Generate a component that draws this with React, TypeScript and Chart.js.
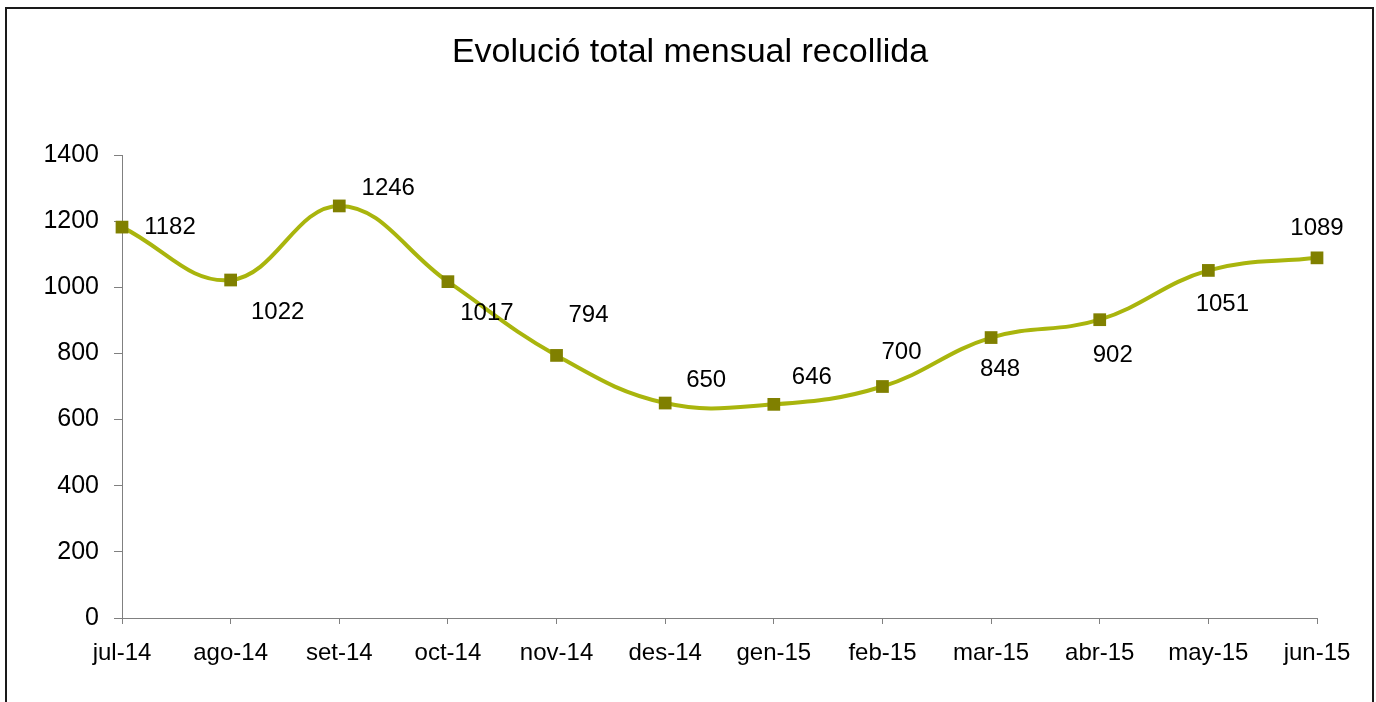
import React, { useEffect, useRef } from "react";
import { Chart, registerables } from "chart.js";

Chart.register(...registerables);

const titleText = "Evolució total mensual recollida";
const months = ["jul-14", "ago-14", "set-14", "oct-14", "nov-14", "des-14", "gen-15", "feb-15", "mar-15", "abr-15", "may-15", "jun-15"];
const totals = [1182, 1022, 1246, 1017, 794, 650, 646, 700, 848, 902, 1051, 1089];
const yMin = 0;
const yMax = 1400;
const yStep = 200;

// label offsets (style) relative to each point, in px
const labelDx = [48, 47, 49, 39, 32, 41, 38, 19, 9, 13, 14, 0];
const labelDy = [0, 32, -18, 32, -40, -23, -27, -34, 32, 36, 34, -29];

const FONT = "'Liberation Sans', Arial, Helvetica, sans-serif";

const framePlugin = {
  id: "frame",
  beforeDraw(chart: any) {
    const ctx = chart.ctx;
    ctx.save();
    ctx.fillStyle = "#ffffff";
    ctx.fillRect(0, 0, chart.width, chart.height);
    ctx.strokeStyle = "#1a1a1a";
    ctx.lineWidth = 2;
    ctx.strokeRect(6, 8, 1367, 710);
    ctx.fillStyle = "#000000";
    ctx.font = `34px ${FONT}`;
    ctx.textAlign = "center";
    ctx.textBaseline = "alphabetic";
    ctx.fillText(titleText, 690, 62);
    ctx.restore();
  },
};

const labelPlugin = {
  id: "valueLabels",
  afterDatasetsDraw(chart: any) {
    const ctx = chart.ctx;
    const meta = chart.getDatasetMeta(0);
    ctx.save();
    ctx.fillStyle = "#000000";
    ctx.font = `24px ${FONT}`;
    ctx.textAlign = "center";
    ctx.textBaseline = "middle";
    meta.data.forEach((pt: any, i: number) => {
      ctx.fillText(String(totals[i]), pt.x + labelDx[i], pt.y + labelDy[i]);
    });
    ctx.restore();
  },
};

export default function App() {
  const ref = useRef<HTMLCanvasElement>(null);
  useEffect(() => {
    if (!ref.current) return;
    const chart = new Chart(ref.current, {
      type: "line",
      data: {
        labels: months,
        datasets: [
          {
            data: totals,
            borderColor: "#a9b50d",
            borderWidth: 4,
            tension: 0.4,
            pointStyle: "rect",
            pointRadius: 9,
            pointHoverRadius: 9,
            pointBackgroundColor: "#808000",
            pointBorderColor: "#808000",
            pointBorderWidth: 0,
            fill: false,
          },
        ],
      },
      options: {
        responsive: false,
        animation: false,
        layout: { padding: { top: 155, right: 59, bottom: 0, left: 0 } },
        plugins: {
          legend: { display: false },
          title: { display: false },
          tooltip: { enabled: false },
        },
        scales: {
          x: {
            offset: false,
            grid: { display: true, drawOnChartArea: false, drawTicks: true, tickLength: 6, color: "#808080", lineWidth: 1 },
            border: { display: true, color: "#808080", width: 1 },
            ticks: { color: "#000000", font: { size: 24, family: FONT }, padding: 15, maxRotation: 0, autoSkip: false },
            afterFit(scale: any) {
              scale.height = 84;
            },
          },
          y: {
            min: yMin,
            max: yMax,
            grid: { display: true, drawOnChartArea: false, drawTicks: true, tickLength: 8, color: "#808080", lineWidth: 1 },
            border: { display: true, color: "#808080", width: 1 },
            ticks: {
              stepSize: yStep,
              color: "#000000",
              font: { size: 25, family: FONT },
              padding: 15,
              callback: (v: any) => String(v),
            },
            afterFit(scale: any) {
              scale.width = 122;
            },
          },
        },
      },
      plugins: [framePlugin, labelPlugin],
    });
    return () => chart.destroy();
  }, []);
  return (
    <div style={{ position: "fixed", left: 0, top: 0, width: 1376, height: 702, background: "#fff" }}>
      <canvas ref={ref} width={1376} height={702} style={{ display: "block" }} />
    </div>
  );
}
